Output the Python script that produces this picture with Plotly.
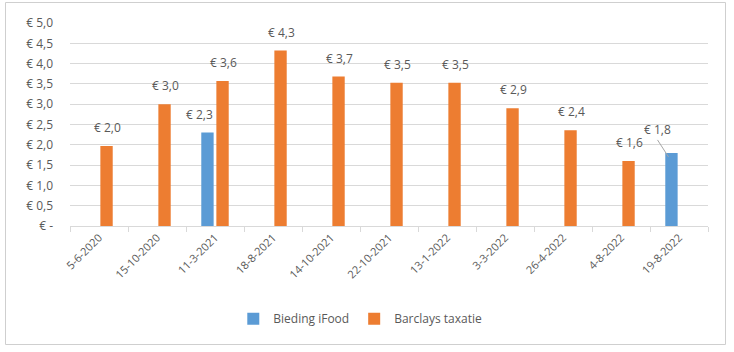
import plotly.graph_objects as go

categories = ["5-6-2020", "15-10-2020", "11-3-2021", "18-8-2021", "14-10-2021",
              "22-10-2021", "13-1-2022", "3-3-2022", "26-4-2022", "4-8-2022", "19-8-2022"]
ifood = [None, None, 2.30, None, None, None, None, None, None, None, 1.80]
barclays = [1.97, 3.00, 3.57, 4.32, 3.68, 3.53, 3.53, 2.90, 2.36, 1.60, None]
ytick_vals = [0, 0.5, 1.0, 1.5, 2.0, 2.5, 3.0, 3.5, 4.0, 4.5, 5.0]
ytick_text = ["€ -", "€ 0,5", "€ 1,0", "€ 1,5", "€ 2,0", "€ 2,5", "€ 3,0",
              "€ 3,5", "€ 4,0", "€ 4,5", "€ 5,0"]

BLUE = "#5B9BD5"
ORANGE = "#ED7D31"
GRAY = "#595959"
FONT = "Open Sans"

fig = go.Figure()
fig.add_trace(go.Bar(name="Bieding iFood", x=categories, y=ifood,
                     marker=dict(color=BLUE, line=dict(width=0))))
fig.add_trace(go.Bar(name="Barclays taxatie", x=categories, y=barclays,
                     marker=dict(color=ORANGE, line=dict(width=0))))

def fmt(v):
    return "€ " + f"{v:.1f}".replace(".", ",")

annotations = []
for series, xs in ((ifood, -8.5), (barclays, 8.5)):
    for i, v in enumerate(series):
        if v is None:
            continue
        if series is ifood and i == len(categories) - 1:
            annotations.append(dict(x=categories[i], y=v, xshift=xs - 2, yshift=-4,
                                    text=fmt(v), showarrow=True, arrowhead=0,
                                    arrowwidth=1, arrowcolor="#A6A6A6",
                                    ax=-11, ay=-17, xanchor="center", yanchor="bottom",
                                    font=dict(family=FONT, size=12, color=GRAY)))
            continue
        extra = -7 if series is ifood else 0
        annotations.append(dict(x=categories[i], y=v, xshift=xs + extra, yshift=8,
                                text=fmt(v), showarrow=False,
                                xanchor="center", yanchor="bottom",
                                font=dict(family=FONT, size=12, color=GRAY)))

# chart border (pixel positions converted to paper fractions)
L, R, T, B = 70, 26, 23, 126
W, H = 734, 352
pw, ph = W - L - R, H - T - B
def px(x):
    return (x - L) / pw
def py(y):
    return (H - B - y) / ph

BORDER = dict(color="#CFCFCF", width=1)
fig.update_layout(
    width=W, height=H,
    margin=dict(l=L, r=R, t=T, b=B),
    paper_bgcolor="white", plot_bgcolor="white",
    barmode="group", bargap=0.48, bargroupgap=0.18,
    font=dict(family=FONT, size=11, color=GRAY),
    showlegend=True,
    legend=dict(orientation="h", x=0.455, xanchor="center", y=-0.385, yanchor="top",
                font=dict(family=FONT, size=12, color=GRAY), itemwidth=30,
                bgcolor="rgba(0,0,0,0)", traceorder="normal"),
    annotations=annotations,
    shapes=[
        dict(type="line", xref="paper", yref="paper", x0=px(5.5), x1=px(725.5), y0=py(2.5), y1=py(2.5), line=BORDER),
        dict(type="line", xref="paper", yref="paper", x0=px(5.5), x1=px(725.5), y0=py(344.5), y1=py(344.5), line=BORDER),
        dict(type="line", xref="paper", yref="paper", x0=px(5.5), x1=px(5.5), y0=py(2.5), y1=py(344.5), line=BORDER),
        dict(type="line", xref="paper", yref="paper", x0=px(725.5), x1=px(725.5), y0=py(2.5), y1=py(344.5), line=BORDER),
    ],
)
fig.update_xaxes(type="category", tickangle=-45, showgrid=False,
                 showline=True, linecolor="#D9D9D9", linewidth=1,
                 ticks="outside", tickson="boundaries", ticklen=5, tickcolor="#D9D9D9",
                 tickfont=dict(family=FONT, size=11, color=GRAY))
fig.update_yaxes(range=[0, 5], tickvals=ytick_vals, ticktext=ytick_text,
                 showgrid=True, gridcolor="#D9D9D9", gridwidth=1,
                 zeroline=False, showline=False, ticks="", ticklen=0,
                 ticklabelstandoff=16,
                 tickfont=dict(family=FONT, size=12, color=GRAY))

fig.write_html("out.html")
